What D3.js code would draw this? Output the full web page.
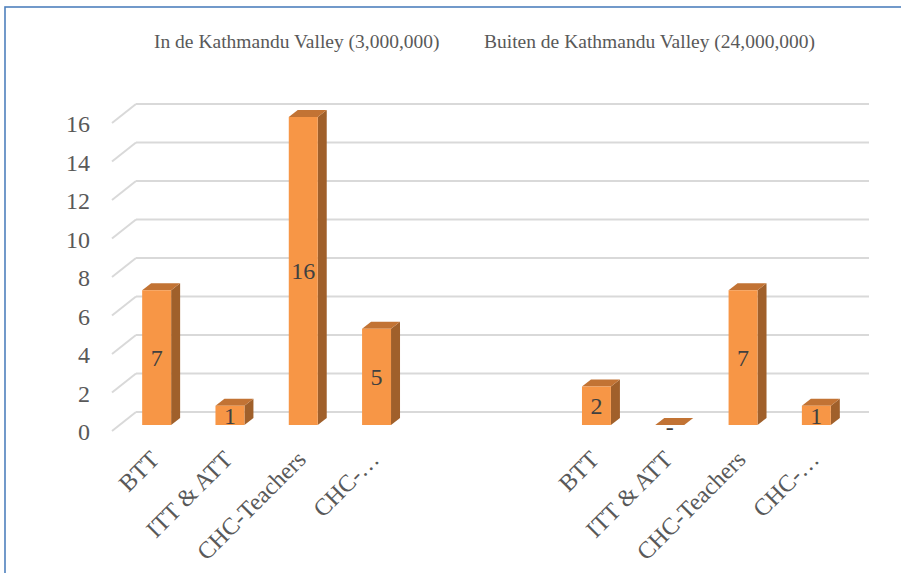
<!DOCTYPE html>
<html>
<head>
<meta charset="utf-8">
<script src="https://cdn.jsdelivr.net/npm/d3@7"></script>
<style>
  html, body { margin: 0; padding: 0; background: #fff; }
  svg { display: block; }
  text { font-family: "Liberation Serif", "Times New Roman", serif; fill: #595959; }
</style>
</head>
<body>
<svg id="chart" width="901" height="573"></svg>
<script>
// ---- data ----
const categories = ["BTT", "ITT & ATT", "CHC-Teachers", "CHC-\u2026"];
const groupNames = ["In de Kathmandu Valley (3,000,000)", "Buiten de Kathmandu Valley (24,000,000)"];
const valuesIn = [7, 1, 16, 5];
const valuesOut = [2, 0, 7, 1];
const yTicks = [0, 2, 4, 6, 8, 10, 12, 14, 16];

// ---- layout ----
const W = 901, H = 573;
const svg = d3.select("#chart");

// frame
svg.append("rect")
  .attr("x", 5).attr("y", 7).attr("width", 1000).attr("height", 700)
  .attr("fill", "none").attr("stroke", "#4F81BD").attr("stroke-width", 1.6);

// legend / group titles
const titleX = [154, 484];
groupNames.forEach((g, i) => {
  svg.append("text")
    .attr("x", titleX[i]).attr("y", 48)
    .attr("font-size", 19.5)
    .text(g);
});

// slots: 4 categories per group, 2 empty slots between
const slots = d3.range(10);
const x = d3.scaleBand().domain(slots).range([136, 869]).paddingInner(0).paddingOuter(0);
const y = d3.scaleLinear().domain([0, 16]).range([412, 104]);

// depth geometry
const wallDx = -24, wallDy = 19;   // back wall -> front edge
const barShiftX = -16, barShiftY = 13; // bar front plane relative to back wall
const depthDx = 9, depthDy = -7;   // bar's own depth
const barW = x.bandwidth() * 0.395;

// gridlines
const grid = svg.append("g");
yTicks.forEach(t => {
  grid.append("line")
    .attr("x1", x.range()[0]).attr("x2", x.range()[1])
    .attr("y1", y(t)).attr("y2", y(t))
    .attr("stroke", "#d9d9d9").attr("stroke-width", 2);
  grid.append("line")
    .attr("x1", x.range()[0]).attr("y1", y(t))
    .attr("x2", x.range()[0] + wallDx).attr("y2", y(t) + wallDy)
    .attr("stroke", "#d9d9d9").attr("stroke-width", 2);
  svg.append("text")
    .attr("x", 90).attr("y", y(t) + wallDy + 1)
    .attr("dy", "0.35em")
    .attr("text-anchor", "end")
    .attr("font-size", 24)
    .text(t);
});

// build bar data
const bars = [];
[valuesIn, valuesOut].forEach((vals, g) => {
  vals.forEach((v, i) => {
    bars.push({ cat: categories[i], value: v, slot: g * 6 + i });
  });
});

const gBars = svg.append("g");
bars.forEach(d => {
  const cx = x(d.slot) + x.bandwidth() / 2 + barShiftX;
  const x0 = cx - barW / 2, x1 = cx + barW / 2;
  const yb = y(0) + barShiftY;
  const yt = y(d.value) + barShiftY;
  // side face
  gBars.append("path")
    .attr("d", `M${x1},${yt} L${x1 + depthDx},${yt + depthDy} L${x1 + depthDx},${yb + depthDy} L${x1},${yb} Z`)
    .attr("fill", "#A0602B");
  // top face
  gBars.append("path")
    .attr("d", `M${x0},${yt} L${x1},${yt} L${x1 + depthDx},${yt + depthDy} L${x0 + depthDx},${yt + depthDy} Z`)
    .attr("fill", "#C27334");
  // front face
  if (d.value > 0) {
    gBars.append("rect")
      .attr("x", x0).attr("y", yt).attr("width", barW).attr("height", yb - yt)
      .attr("fill", "#F79646");
  }
  // data label
  gBars.append("text")
    .attr("x", cx).attr("y", d.value > 0 ? (yt + yb) / 2 : yb + 2)
    .attr("dy", "0.35em")
    .attr("text-anchor", "middle")
    .attr("font-size", 24)
    .style("fill", "#404040")
    .text(d.value === 0 ? "-" : d.value);
  // category label
  const lx = cx + 4, ly = 461;
  svg.append("text")
    .attr("transform", `translate(${lx},${ly}) rotate(-45)`)
    .attr("text-anchor", "end")
    .attr("font-size", 24)
    .text(d.cat);
});
</script>
</body>
</html>
